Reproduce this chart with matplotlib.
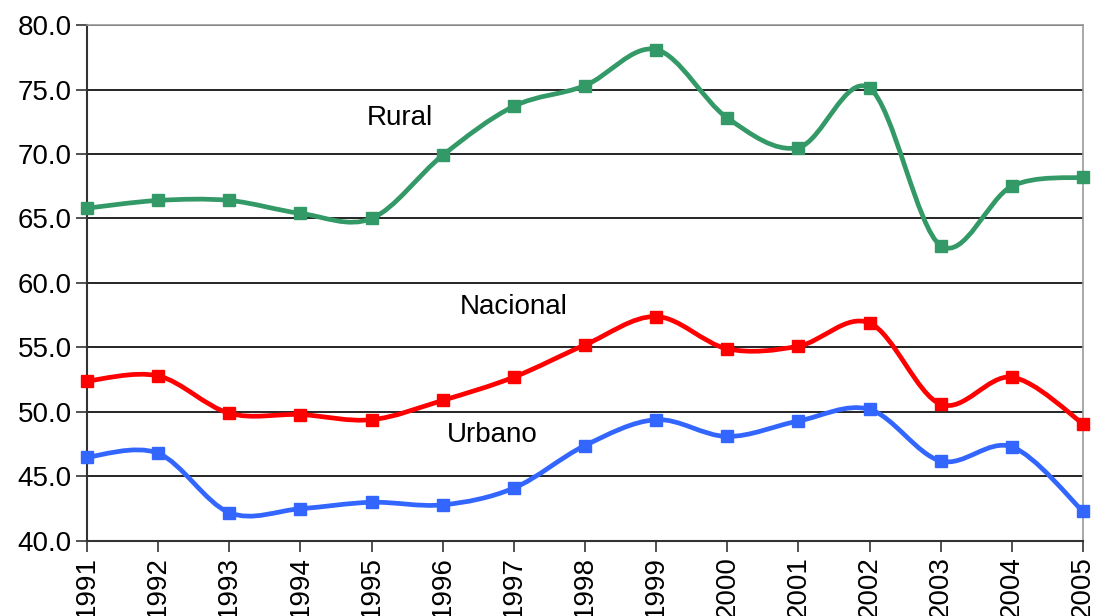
import numpy as np
import matplotlib
matplotlib.use("Agg")
import matplotlib.pyplot as plt
from matplotlib.path import Path
from matplotlib.patches import PathPatch

years = list(range(1991, 2006))
rural = [65.8, 66.4, 66.4, 65.4, 65.0, 69.9, 73.7, 75.3, 78.1, 72.8, 70.5, 75.1, 62.9, 67.5, 68.2]
nacional = [52.4, 52.8, 49.9, 49.8, 49.4, 50.9, 52.7, 55.2, 57.4, 54.9, 55.1, 56.9, 50.6, 52.7, 49.1]
urbano = [46.5, 46.8, 42.2, 42.5, 43.0, 42.8, 44.1, 47.4, 49.4, 48.1, 49.3, 50.2, 46.2, 47.3, 42.3]

series = [
    ("Rural", rural, "#339966", (1995.4, 72.8)),
    ("Nacional", nacional, "#FF0000", (1997.0, 58.1)),
    ("Urbano", urbano, "#3366FF", (1996.7, 48.2)),
]

plt.rcParams['font.family'] = ['Liberation Sans', 'DejaVu Sans']

fig = plt.figure(figsize=(10.98, 6.16), dpi=100)
ax = fig.add_axes([0.0792, 0.1218, 0.9071, 0.8376])


def smooth_path(xs, ys):
    xs = np.asarray(xs, float)
    ys = np.asarray(ys, float)
    n = len(xs)
    verts = [(xs[0], ys[0])]
    codes = [Path.MOVETO]
    for i in range(n - 1):
        p0 = np.array([xs[max(i - 1, 0)], ys[max(i - 1, 0)]])
        p1 = np.array([xs[i], ys[i]])
        p2 = np.array([xs[i + 1], ys[i + 1]])
        p3 = np.array([xs[min(i + 2, n - 1)], ys[min(i + 2, n - 1)]])
        c1 = p1 + (p2 - p0) / 6.0
        c2 = p2 - (p3 - p1) / 6.0
        verts += [tuple(c1), tuple(c2), tuple(p2)]
        codes += [Path.CURVE4] * 3
    return Path(verts, codes)


for name, vals, color, (tx, ty) in series:
    patch = PathPatch(smooth_path(years, vals), facecolor='none', edgecolor=color,
                      linewidth=3.4, zorder=3, capstyle='round', joinstyle='round')
    patch.set_clip_on(False)
    ax.add_patch(patch)
    ax.plot(years, vals, linestyle='none', marker='s', markersize=8, color=color,
            zorder=4, clip_on=False)
    ax.text(tx, ty, name, ha='center', va='center', fontsize=20, color='black', zorder=5)

ax.set_xlim(1991, 2005)
ax.set_ylim(40, 80)
ax.set_yticks(np.arange(40, 80.1, 5))
ax.set_yticklabels([f"{v:.1f}" for v in np.arange(40, 80.1, 5)])
ax.set_xticks(years)
ax.set_xticklabels([str(y) for y in years], rotation=90)

ax.yaxis.grid(True, color='black', linewidth=1.2)
ax.set_axisbelow(True)
for s in ['top', 'right']:
    ax.spines[s].set_color('#999999')
    ax.spines[s].set_linewidth(1.2)
for s in ['left', 'bottom']:
    ax.spines[s].set_color('#333333')
    ax.spines[s].set_linewidth(1.5)

ax.tick_params(axis='both', labelsize=20, length=8, width=1.2, color='#333333', pad=3)

fig.savefig("out.png", dpi=100)
